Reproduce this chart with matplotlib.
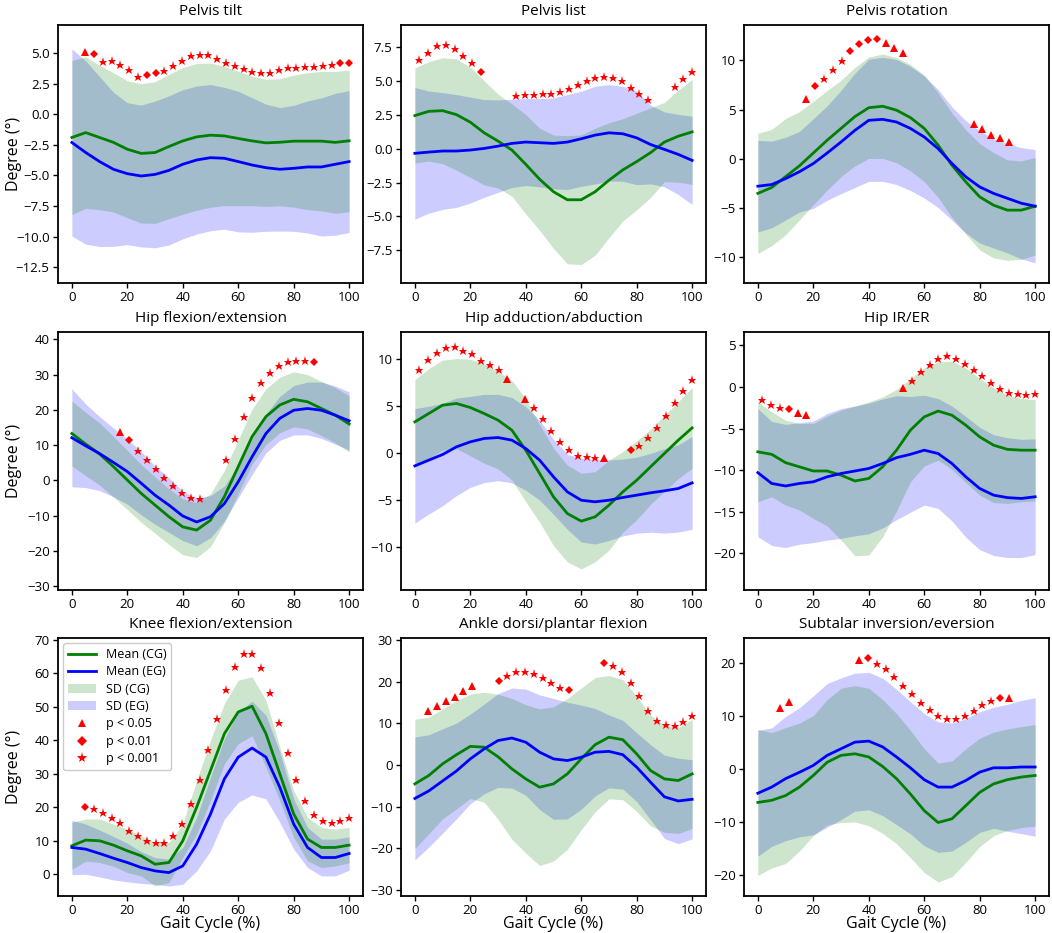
import numpy as np
import matplotlib
matplotlib.use("Agg")
import matplotlib.pyplot as plt
from matplotlib.lines import Line2D
from matplotlib.patches import Patch
from matplotlib.ticker import MultipleLocator

plt.rcParams['font.family'] = ['Open Sans', 'DejaVu Sans']
plt.rcParams['axes.unicode_minus'] = True

# ---------------- data ----------------
gait_x = np.arange(0, 101, 5)            # gait cycle samples (%)
sig_x = np.linspace(1.6, 100, 32)        # positions of significance markers

titles = ["Pelvis tilt", "Pelvis list", "Pelvis rotation",
          "Hip flexion/extension", "Hip adduction/abduction", "Hip IR/ER",
          "Knee flexion/extension", "Ankle dorsi/plantar flexion",
          "Subtalar inversion/eversion"]

# Pelvis tilt
tilt_cg_mean = [-1.9, -1.5, -1.9, -2.3, -2.86, -3.2, -3.13, -2.64, -2.18, -1.85, -1.71, -1.77, -1.98, -2.18, -2.34, -2.29, -2.2, -2.2, -2.2, -2.3, -2.17]
tilt_cg_sd = [6.3, 6.2, 5.9, 5.7, 5.6, 5.7, 5.8, 5.9, 6.0, 6.0, 5.9, 5.7, 5.5, 5.3, 5.2, 5.2, 5.4, 5.6, 5.7, 5.8, 5.8]
tilt_eg_mean = [-2.31, -3.13, -3.87, -4.5, -4.86, -5.05, -4.92, -4.59, -4.09, -3.74, -3.55, -3.6, -3.87, -4.15, -4.37, -4.5, -4.42, -4.31, -4.31, -4.09, -3.87]
tilt_eg_sd = [7.65, 7.5, 6.95, 6.3, 5.8, 5.8, 6.0, 6.1, 6.1, 6.05, 5.98, 5.8, 5.75, 5.5, 5.2, 5.05, 5.15, 5.4, 5.65, 5.8, 5.8]
tilt_sig_type = ".td" + "s" * 5 + "dd" + "s" * 20 + "dd"
tilt_sig_y = [5.08, 4.89, 4.26, 4.32, 4.04, 3.66, 3.06, 3.25, 3.38, 3.52, 3.93, 4.37, 4.73, 4.86, 4.81, 4.48, 4.21, 3.93, 3.71, 3.49, 3.36, 3.36, 3.63, 3.77, 3.82, 3.85, 3.88, 3.93, 4.01, 4.2, 4.23]

# Pelvis list
list_cg_mean = [2.43, 2.74, 2.79, 2.5, 1.94, 1.16, 0.55, -0.11, -1.16, -2.26, -3.18, -3.77, -3.77, -3.18, -2.33, -1.57, -0.96, -0.3, 0.48, 0.91, 1.23]
list_cg_sd = [3.5, 3.66, 3.9, 4.1, 4.06, 3.84, 3.45, 3.4, 3.66, 3.76, 4.18, 4.72, 4.77, 4.68, 4.23, 3.77, 3.56, 3.3, 2.92, 3.39, 3.87]
list_eg_mean = [-0.35, -0.26, -0.18, -0.18, -0.11, 0.01, 0.18, 0.38, 0.48, 0.43, 0.38, 0.48, 0.72, 0.99, 1.16, 1.09, 0.79, 0.3, -0.06, -0.43, -0.87]
list_eg_sd = [4.85, 4.5, 4.3, 4.15, 3.9, 3.6, 3.4, 3.25, 3.2, 3.25, 3.35, 3.5, 3.5, 3.6, 3.55, 3.5, 3.45, 2.9, 2.76, 2.95, 3.25]
list_sig_type = "s" * 7 + "d" + "..." + "s" * 16 + ".." + "sss"
list_sig_y = [6.52, 7.06, 7.55, 7.62, 7.33, 6.82, 6.28, 5.62, 3.89, 3.94, 3.94, 3.99, 4.04, 4.16, 4.4, 4.65, 4.99, 5.23, 5.3, 5.18, 4.94, 4.48, 4.04, 3.6, 4.52, 5.13, 5.67]

# Pelvis rotation
rot_cg_mean = [-3.5, -2.9, -1.8, -0.7, 0.6, 1.9, 3.1, 4.3, 5.2, 5.35, 4.95, 4.2, 3.1, 1.4, -0.64, -2.33, -3.85, -4.7, -5.2, -5.2, -4.8]
rot_cg_sd = [6.1, 5.9, 5.9, 5.5, 5.25, 5.05, 4.9, 5.0, 5.15, 5.3, 5.35, 5.4, 5.4, 5.3, 5.3, 5.3, 5.4, 5.35, 5.1, 5.0, 4.95]
rot_eg_mean = [-2.77, -2.6, -2.0, -1.3, -0.47, 0.6, 1.72, 2.9, 3.92, 4.02, 3.75, 3.1, 2.23, 1.05, -0.47, -1.82, -2.84, -3.5, -4.0, -4.5, -4.8]
rot_eg_sd = [4.65, 4.4, 4.2, 4.1, 4.55, 4.8, 5.25, 5.8, 6.2, 6.3, 6.35, 6.3, 6.2, 6.0, 5.75, 5.7, 5.7, 5.55, 5.55, 5.65, 5.75]
rot_sig_type = "....." + "td" + "sss" + "dddd" + "ttt" + "......." + "ttttt" + "..."
rot_sig_y = [6.11, 7.36, 8.14, 9.05, 9.97, 10.95, 11.62, 12.09, 12.16, 11.79, 11.28, 10.78, 3.58, 3.0, 2.4, 2.09, 1.76]

# Hip flexion/extension
hfe_cg_mean = [13.3, 10.3, 7.5, 3.9, 0.1, -3.7, -7.0, -10.3, -13.2, -14.1, -11.3, -4.6, 3.9, 12.4, 18.1, 21.4, 23.0, 22.3, 20.4, 18.5, 16.0]
hfe_cg_sd = [9.2, 9.0, 8.8, 8.6, 8.4, 8.2, 8.0, 7.9, 7.9, 7.8, 7.5, 7.4, 7.6, 7.8, 7.9, 7.9, 7.8, 7.7, 7.7, 7.8, 8.0]
hfe_eg_mean = [12.1, 9.8, 7.6, 5.1, 2.5, -0.8, -4.2, -7.0, -10.1, -11.8, -10.3, -6.6, -0.4, 6.7, 13.3, 17.6, 19.9, 20.4, 19.9, 18.5, 16.9]
hfe_eg_sd = [13.9, 11.85, 10.5, 9.75, 9.25, 9.0, 8.25, 7.75, 7.0, 6.75, 6.0, 5.0, 4.5, 5.0, 5.5, 6.25, 7.0, 7.5, 8.0, 8.25, 8.25]
hfe_sig_type = "....." + "td" + "s" * 8 + ".." + "s" * 10 + "d" + "...."
hfe_sig_y = [13.6, 11.6, 8.4, 5.9, 3.3, 0.8, -1.7, -3.7, -5.0, -5.4, 5.8, 11.7, 18.05, 23.4, 27.7, 30.5, 32.4, 33.5, 33.9, 33.85, 33.7]

# Hip adduction/abduction
haa_cg_mean = [3.32, 4.21, 5.1, 5.28, 4.85, 4.21, 3.5, 2.43, 0.3, -2.18, -4.67, -6.45, -7.26, -6.8, -5.56, -4.14, -2.9, -1.47, -0.05, 1.37, 2.68]
haa_cg_sd = [4.5, 4.8, 4.8, 4.8, 5.15, 5.3, 5.2, 5.3, 5.5, 5.2, 5.2, 5.15, 5.1, 4.8, 4.8, 4.3, 4.2, 4.0, 4.05, 4.1, 4.3]
haa_eg_mean = [-1.37, -0.76, -0.16, 0.66, 1.19, 1.55, 1.65, 1.37, 0.48, -0.76, -2.54, -4.14, -5.03, -5.2, -5.03, -4.74, -4.49, -4.24, -4.03, -3.78, -3.18]
haa_eg_sd = [6.1, 5.75, 5.45, 5.2, 4.85, 4.7, 4.6, 4.55, 4.45, 4.25, 4.0, 4.0, 4.45, 4.5, 4.3, 4.1, 4.05, 4.2, 4.5, 4.65, 4.95]
haa_sig_type = "s" * 10 + "t.t" + "s" * 8 + "t" + ".." + "d" + "s" * 7
haa_sig_y = [8.9, 9.89, 10.71, 11.21, 11.31, 10.92, 10.6, 9.86, 9.36, 8.86, 7.9, 5.74, 4.81, 3.64, 2.36, 1.19, 0.27, -0.27, -0.44, -0.48, -0.52, 0.34, 0.76, 1.62, 2.68, 3.99, 5.35, 6.59, 7.83]

# Hip IR/ER
hir_cg_mean = [-7.8, -8.1, -9.1, -9.6, -10.1, -10.1, -10.6, -11.3, -11.0, -9.6, -7.6, -5.2, -3.6, -2.9, -3.4, -4.6, -6.0, -7.0, -7.5, -7.6, -7.6]
hir_cg_sd = [6.0, 5.1, 5.1, 5.2, 5.7, 6.6, 7.8, 9.0, 9.2, 8.4, 7.3, 6.2, 5.9, 5.9, 6.5, 6.9, 7.0, 6.9, 6.5, 6.2, 6.1]
hir_eg_mean = [-10.3, -11.6, -11.9, -11.6, -11.4, -10.8, -10.4, -10.1, -9.8, -9.2, -8.5, -8.1, -7.6, -8.0, -9.2, -10.8, -12.2, -13.0, -13.3, -13.4, -13.2]
hir_eg_sd = [7.7, 7.45, 7.4, 7.3, 7.3, 7.6, 7.8, 7.8, 7.85, 7.75, 7.45, 6.95, 6.6, 6.6, 6.9, 7.25, 7.35, 7.25, 7.2, 7.1, 6.95]
hir_sig_type = "sss" + "d" + "tt" + "." * 10 + "t" + "s" * 15
hir_sig_y = [-1.6, -2.12, -2.52, -2.68, -3.12, -3.4, -0.08, 0.76, 1.76, 2.68, 3.4, 3.68, 3.4, 2.8, 2.08, 1.28, 0.48, -0.2, -0.68, -0.88, -1.0, -0.88]

# Knee flexion/extension
knee_cg_mean = [8.5, 10.2, 10.0, 8.7, 7.0, 5.5, 3.0, 3.5, 10.0, 20.0, 31.0, 42.0, 48.5, 50.2, 42.0, 30.0, 18.0, 10.5, 8.0, 8.0, 8.7]
knee_cg_sd = [7.0, 6.3, 6.5, 6.3, 6.5, 6.0, 6.5, 6.0, 5.0, 8.0, 9.0, 9.0, 9.5, 8.8, 10.0, 8.0, 7.0, 6.5, 6.0, 5.5, 5.3]
knee_eg_mean = [8.0, 7.5, 6.2, 4.8, 3.5, 2.0, 1.0, 0.5, 2.5, 9.0, 18.0, 28.5, 35.0, 37.7, 35.0, 26.0, 15.0, 8.0, 5.0, 5.0, 6.2]
knee_eg_sd = [8.15, 7.5, 7.0, 6.5, 5.75, 4.75, 4.0, 4.0, 5.5, 8.0, 11.0, 12.0, 13.5, 14.0, 12.5, 10.5, 7.5, 6.0, 5.5, 5.5, 5.0]
knee_sig_type = ".d" + "s" * 30
knee_sig_y = [20.0, 19.5, 18.2, 16.8, 15.2, 13.0, 11.4, 10.0, 9.2, 9.4, 11.3, 15.0, 20.9, 28.3, 37.2, 46.5, 55.0, 62.0, 65.8, 65.8, 61.7, 54.3, 45.3, 36.3, 28.3, 21.9, 17.8, 15.8, 15.4, 15.8, 16.8]

# Ankle dorsi/plantar flexion
ank_cg_mean = [-4.5, -2.5, 0.3, 2.5, 4.5, 4.3, 2.0, -0.9, -3.3, -5.3, -4.5, -2.1, 1.5, 4.9, 6.7, 6.1, 2.7, -1.3, -3.3, -3.7, -2.1]
ank_cg_sd = [15.5, 14.0, 13.2, 13.0, 12.5, 13.2, 15.0, 16.9, 17.8, 18.8, 18.5, 18.1, 17.0, 16.1, 14.8, 14.4, 13.8, 13.3, 12.8, 12.7, 13.1]
ank_eg_mean = [-8.0, -6.2, -3.8, -1.4, 1.5, 3.9, 5.9, 6.5, 5.5, 3.1, 1.5, 1.1, 1.9, 3.1, 3.3, 2.5, -0.5, -4.1, -7.6, -8.6, -8.2]
ank_eg_sd = [14.75, 13.5, 12.5, 11.5, 10.75, 10.75, 11.25, 12.0, 12.75, 13.75, 14.5, 14.0, 12.5, 10.5, 8.75, 8.25, 8.25, 9.0, 10.0, 10.25, 9.5]
ank_sig_type = "." + "t" * 6 + ".." + "d" + "s" * 7 + "d" + "..." + "d" + "s" * 10
ank_sig_y = [13.1, 14.3, 15.3, 16.3, 17.7, 18.9, 20.3, 21.5, 22.4, 22.4, 21.8, 20.9, 19.7, 18.4, 18.1, 24.5, 23.8, 22.4, 19.8, 16.5, 13.0, 10.7, 9.7, 9.5, 10.3, 11.8]

# Subtalar inversion/eversion
sub_cg_mean = [-6.3, -5.9, -5.0, -3.4, -1.2, 1.3, 2.6, 2.9, 2.3, 0.5, -1.8, -4.7, -7.85, -10.1, -9.4, -6.9, -4.4, -2.8, -2.0, -1.5, -1.2]
sub_cg_sd = [13.8, 12.8, 12.85, 12.1, 11.35, 11.85, 12.7, 12.9, 13.0, 12.65, 12.3, 12.05, 11.7, 11.25, 10.95, 10.75, 10.25, 9.8, 9.6, 9.55, 9.6]
sub_eg_mean = [-4.56, -3.4, -1.8, -0.6, 0.7, 2.6, 3.85, 5.1, 5.3, 4.2, 2.3, 0.25, -2.0, -3.4, -3.4, -2.15, -0.57, 0.25, 0.25, 0.4, 0.4]
sub_eg_sd = [11.9, 11.2, 11.75, 12.2, 13.15, 13.6, 13.4, 13.05, 13.0, 13.0, 12.8, 12.5, 12.5, 12.35, 12.1, 11.7, 11.4, 11.45, 12.0, 12.6, 13.1]
sub_sig_type = ".." + "tt" + "......." + "td" + "s" * 14 + "dt" + "..."
sub_sig_y = [11.6, 12.7, 20.6, 21.0, 19.9, 18.9, 17.5, 15.8, 14.2, 12.5, 11.1, 10.1, 9.4, 9.4, 10.1, 11.0, 12.1, 12.8, 13.5, 13.5]

ylims = [(-13.8, 7.3), (-9.9, 9.1), (-12.6, 13.6),
         (-31.1, 42.1), (-14.6, 12.9), (-24.4, 6.6),
         (-6.5, 70.6), (-31.4, 30.5), (-24.0, 24.8)]
ysteps = [2.5, 2.5, 5, 10, 5, 5, 10, 10, 10]

panels = [
    (tilt_cg_mean, tilt_cg_sd, tilt_eg_mean, tilt_eg_sd, tilt_sig_type, tilt_sig_y),
    (list_cg_mean, list_cg_sd, list_eg_mean, list_eg_sd, list_sig_type, list_sig_y),
    (rot_cg_mean, rot_cg_sd, rot_eg_mean, rot_eg_sd, rot_sig_type, rot_sig_y),
    (hfe_cg_mean, hfe_cg_sd, hfe_eg_mean, hfe_eg_sd, hfe_sig_type, hfe_sig_y),
    (haa_cg_mean, haa_cg_sd, haa_eg_mean, haa_eg_sd, haa_sig_type, haa_sig_y),
    (hir_cg_mean, hir_cg_sd, hir_eg_mean, hir_eg_sd, hir_sig_type, hir_sig_y),
    (knee_cg_mean, knee_cg_sd, knee_eg_mean, knee_eg_sd, knee_sig_type, knee_sig_y),
    (ank_cg_mean, ank_cg_sd, ank_eg_mean, ank_eg_sd, ank_sig_type, ank_sig_y),
    (sub_cg_mean, sub_cg_sd, sub_eg_mean, sub_eg_sd, sub_sig_type, sub_sig_y),
]

# ---------------- styling ----------------
marker_style = {
    't': dict(marker='^', ms=5.5),
    'd': dict(marker='D', ms=4.5),
    's': dict(marker='*', ms=6.5),
}

fig = plt.figure(figsize=(10.52, 9.33), dpi=100)
W, H = 1052, 933
col_left = [58, 401, 744]
row_top = [25, 332, 638]
aw, ah = 305, 258

for i, (cgm, cgs, egm, egs, stype, sy) in enumerate(panels):
    r, c = divmod(i, 3)
    ax = fig.add_axes([col_left[c] / W, 1 - (row_top[r] + ah) / H, aw / W, ah / H])
    cgm, cgs, egm, egs = map(np.asarray, (cgm, cgs, egm, egs))
    ax.fill_between(gait_x, egm - egs, egm + egs, color='blue', alpha=0.2, lw=0)
    ax.fill_between(gait_x, cgm - cgs, cgm + cgs, color='green', alpha=0.2, lw=0)
    ax.plot(gait_x, cgm, color='green', lw=2)
    ax.plot(gait_x, egm, color='blue', lw=2)
    # significance markers
    present = [k for k, ch in enumerate(stype) if ch != '.']
    for key in ('t', 'd', 's'):
        xs = [sig_x[k] for j, k in enumerate(present) if stype[k] == key]
        ys = [sy[j] for j, k in enumerate(present) if stype[k] == key]
        if xs:
            ax.plot(xs, ys, ls='none', color='red', mew=0, **marker_style[key])
    ax.set_xlim(-5, 105)
    ax.set_ylim(*ylims[i])
    ax.xaxis.set_major_locator(MultipleLocator(20))
    ax.yaxis.set_major_locator(MultipleLocator(ysteps[i]))
    ax.tick_params(labelsize=9.5, length=3.5, width=1, pad=2.5)
    for sp in ax.spines.values():
        sp.set_linewidth(1.3)
    ax.set_title(titles[i], fontsize=11, pad=7)
    if c == 0:
        ax.set_ylabel("Degree (°)", fontsize=11.5)
        ax.yaxis.set_label_coords(-0.118, 0.5)
    if r == 2:
        ax.set_xlabel("Gait Cycle (%)", fontsize=11.5)
        ax.xaxis.set_label_coords(0.5, -0.078)
    if i == 6:
        handles = [
            Line2D([], [], color='green', lw=2, label='Mean (CG)'),
            Line2D([], [], color='blue', lw=2, label='Mean (EG)'),
            Patch(facecolor='green', alpha=0.2, label='SD (CG)'),
            Patch(facecolor='blue', alpha=0.2, label='SD (EG)'),
            Line2D([], [], ls='none', color='red', marker='^', ms=6, mew=0, label='p < 0.05'),
            Line2D([], [], ls='none', color='red', marker='D', ms=5, mew=0, label='p < 0.01'),
            Line2D([], [], ls='none', color='red', marker='*', ms=8, mew=0, label='p < 0.001'),
        ]
        ax.legend(handles=handles, loc='upper left', fontsize=9, labelspacing=0.35,
                  handlelength=2.2, borderaxespad=0.4, framealpha=1)

fig.savefig("out.png", dpi=100)
